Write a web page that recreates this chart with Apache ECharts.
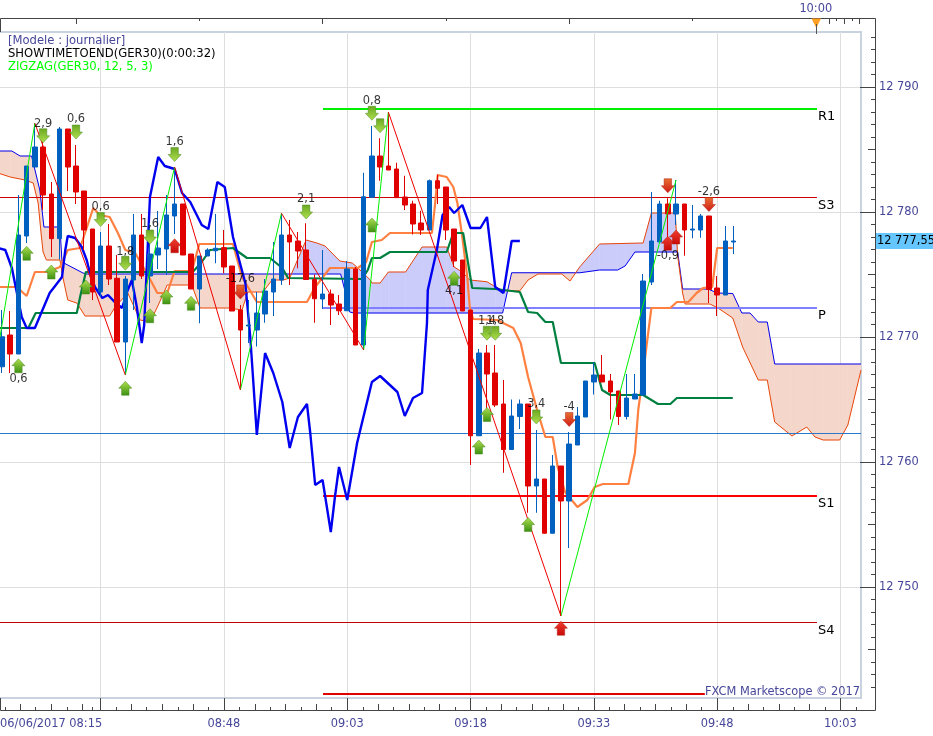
<!DOCTYPE html>
<html><head><meta charset="utf-8">
<style>html,body{margin:0;padding:0;background:#fff}#c{width:933px;height:736px}</style>
<script src="https://cdn.jsdelivr.net/npm/echarts@6/dist/echarts.min.js"></script>
</head><body><div id="c"></div>
<script>
const opens=[12767.62,12770.16,12768.64,12778.08,12783.6,12785.2,12781.44,12777.87,12786.64,12783.68,12781.68,12778.64,12773.6,12777.28,12774.7,12769.6,12774.56,12778.16,12774.88,12776.56,12777.04,12779.68,12780.64,12776.64,12773.84,12776.48,12776.9,12777.15,12775.68,12772.16,12770.88,12770.56,12771.84,12773.6,12774.56,12778.16,12777.68,12776.96,12774.6,12773.04,12773.44,12772.64,12772.1,12775.44,12769.36,12781.18,12784.48,12783.68,12783.44,12781.2,12780.64,12779.12,12778.56,12782.5,12782,12778.64,12776.16,12772.16,12762.1,12768.72,12767.12,12764.64,12761,12763.64,12764.64,12758.08,12758.64,12754.3,12759.68,12756.88,12761.36,12763.6,12766.4,12766.96,12766.48,12765.68,12763.64,12765.04,12765.36,12774.4,12777.6,12780.64,12779.84,12780.64,12778.56,12778.56,12779.68,12773.92,12773.36,12777.6];
const closes=[12770.02,12768.64,12778.16,12783.68,12785.2,12781.36,12777.87,12786.64,12783.6,12781.6,12778.56,12773.6,12777.28,12774.64,12769.6,12774.64,12778.16,12774.88,12776.64,12777.12,12779.76,12780.64,12776.56,12773.84,12776.48,12776.96,12777.1,12775.6,12772.08,12770.56,12770.96,12771.92,12773.68,12774.64,12778.16,12777.6,12776.88,12774.6,12773.06,12773.44,12772.56,12772.1,12775.44,12769.36,12781.22,12784.48,12783.6,12783.36,12781.15,12780.56,12779.04,12778.56,12782.5,12781.9,12778.56,12776.08,12772.08,12762.1,12768.72,12767.04,12764.56,12761,12763.68,12764.64,12758.08,12758.64,12754.3,12759.68,12756.88,12761.44,12763.68,12766.48,12766.96,12766.4,12765.6,12763.64,12765.12,12765.44,12774.48,12777.68,12780.64,12779.84,12780.64,12778.56,12778.64,12779.68,12773.8,12773.36,12777.68,12777.68];
const lows=[12767.12,12767.12,12768.64,12777.52,12783.6,12780.16,12776.4,12776.2,12781.68,12780.64,12776.96,12772.96,12773.2,12774.16,12769.6,12766.96,12772.16,12774.64,12772.72,12775.44,12774.96,12778.24,12776.56,12773.84,12771.1,12776.48,12775.9,12775.1,12772.08,12765.76,12769.52,12769.24,12771.14,12771.68,12774.16,12774.16,12775.5,12774.6,12771.14,12772.24,12770.96,12771.76,12772.1,12769.36,12768.96,12781.18,12782.5,12783.36,12781.15,12780.16,12778.2,12778.16,12778.56,12780.64,12777.76,12775.6,12772.08,12759.76,12762.1,12764.16,12764.4,12759.14,12760.96,12762.64,12755.94,12755.94,12754.3,12754.3,12747.68,12753.12,12761.36,12763.6,12765.4,12766.4,12763.4,12762.96,12763.4,12765.04,12765.36,12774.16,12777.6,12777.8,12778.96,12776.5,12777.9,12777.94,12772.72,12771.68,12773.36,12776.64];
const highs=[12772.16,12772.08,12781.36,12783.68,12787.1,12786.5,12782.4,12786.8,12786.64,12785.36,12781.68,12778.64,12778.4,12779.04,12776.56,12774.88,12779.84,12779.84,12779.12,12780.08,12781.36,12783.6,12780.64,12776.64,12776.48,12777.1,12779.84,12778.56,12775.68,12772.56,12772.96,12773.6,12774.64,12777.6,12779.9,12779.36,12778.4,12779.1,12775,12776.96,12773.8,12773.36,12776.08,12775.6,12783.14,12786.88,12785.9,12788,12783.94,12782.9,12780.9,12780.1,12782.6,12783,12782,12778.64,12776.16,12772.16,12769.04,12769.36,12769.36,12766.56,12765,12765,12764.64,12762.56,12758.64,12760.56,12759.68,12762.4,12764.4,12766.48,12768,12768.56,12767.04,12765.68,12767.04,12767.04,12775.04,12781.6,12780.9,12781.1,12782.56,12780.64,12780.56,12779.84,12779.68,12774.88,12778.88,12778.88];
const BAND_COUNT=105;

const senkouA=[[-0.5,12784.88],[1.2,12784.88],[2.2,12784.48],[3.6,12784.48],[4.6,12781.76],[5.1,12778.8],[7.05,12778.8],[7.3,12776],[9.85,12775.12],[10.3,12775.04],[41.2,12775.04],[41.7,12773.76],[42.3,12772],[42.8,12771.92],[60.9,12771.92],[62,12775.14],[70.3,12775.14],[72.7,12775.36],[74.9,12775.36],[75.8,12775.68],[77,12776.8],[82.2,12776.8],[82.8,12773.84],[85.9,12773.84],[87,12773.52],[88.9,12773.48],[90,12771.92],[91,12771.92],[92,12771.2],[93.1,12771.2],[94,12767.84],[104.5,12767.84]];
const senkouB=[[-0.5,12783.12],[1,12782.8],[2.2,12782.64],[2.8,12782.56],[3.8,12782.32],[4.4,12780.72],[4.8,12778],[5,12776.8],[5.4,12776.16],[7.05,12776.16],[7.4,12774.8],[8,12772.96],[9.1,12772.72],[10.1,12771.68],[13.1,12771.68],[13.75,12772.4],[15.3,12773.52],[16.8,12771.36],[18,12771.2],[18.9,12772.4],[20.1,12774.16],[23.1,12774.16],[24.1,12772.32],[27.7,12772.32],[29.2,12772.16],[29.9,12773.6],[31.75,12773.6],[32.85,12774.56],[34.2,12774.56],[35,12774.72],[37,12777.76],[38.3,12777.52],[39.3,12777.28],[41.1,12776.08],[42.6,12775.92],[43.3,12775.52],[44.8,12774.56],[45,12774.32],[46,12774.32],[47,12775.2],[49.1,12775.2],[51.1,12777.2],[54.1,12777.2],[55,12775.6],[56,12775.2],[56.9,12774.56],[59,12774.42],[60,12774.02],[61,12773.7],[63,12773.7],[64,12774.56],[65.2,12775.04],[68.1,12775.04],[69.1,12774.48],[70.3,12775.62],[72.7,12777.44],[78,12777.52],[79,12779.92],[81.9,12779.92],[82.2,12776.48],[82.8,12773.52],[83.1,12772.64],[86.1,12772.64],[87.1,12772.32],[88.9,12771.52],[90.1,12769.2],[92,12766.56],[93.1,12766.56],[94,12763.2],[96.1,12762.08],[97.9,12762.8],[98.9,12762],[99.9,12761.76],[101.9,12761.76],[102.9,12762.96],[104.5,12767.36]];
const orangeLine=[[-0.5,12774],[1.8,12774],[3,12773.28],[4,12775.2],[5.5,12775.2],[7.05,12775.6],[8,12776.96],[9.5,12777.12],[11.1,12780.32],[11.9,12779.76],[13.1,12779.6],[14.1,12778.32],[15,12776.96],[16.2,12776.72],[17.6,12775.12],[18.9,12773.52],[20.1,12773.52],[21,12775.28],[23.1,12775.28],[24,12777.44],[28.1,12777.44],[29.2,12774.8],[31,12772.8],[37.1,12772.8],[38.1,12774],[39.9,12775.52],[43.3,12775.52],[44.3,12776],[45,12777.6],[46.2,12777.76],[47.2,12778.32],[52.3,12778.32],[52.7,12780.72],[53,12782.96],[54.1,12782.8],[54.9,12782],[55.4,12780.72],[56,12778],[56.6,12774.8],[56.9,12772.4],[57.3,12771.44],[60.2,12771.36],[62.2,12770.72],[63.1,12769.52],[64,12766.8],[65.1,12764.16],[66.1,12762],[67,12762],[67.6,12759.6],[68.5,12757.6],[70,12756.4],[71.2,12756.96],[72.1,12758],[73.1,12758.24],[76.2,12758.24],[77,12760.72],[77.4,12764.16],[77.9,12766.56],[78.5,12769.76],[79,12772.32],[81.3,12772.32],[82.1,12772.8],[83.5,12772.8],[84.5,12773.52],[85.3,12773.92],[86.4,12774],[87,12777.12],[88.9,12777.12]];
const greenLine=[[-0.5,12770.72],[3.2,12770.72],[4.1,12771.92],[9.1,12771.92],[9.5,12773.2],[10.2,12775.2],[23.2,12775.2],[24.3,12776],[25.3,12776.96],[28.1,12777.12],[29.8,12776.32],[32.6,12776.32],[34.1,12775.52],[34.8,12774.72],[43.8,12774.64],[44.5,12775.36],[45,12776.32],[46,12776.32],[47.2,12776.8],[54.1,12776.8],[54.9,12778.32],[56.1,12778.32],[57.2,12773.92],[60,12773.84],[63,12773.6],[64,12772],[65.1,12771.92],[66.1,12771.2],[67,12771.2],[68,12767.92],[72.1,12767.92],[73,12765.76],[74,12765.36],[78,12765.36],[79.8,12764.64],[81.3,12764.64],[82.1,12765.12],[88.9,12765.12]];
const blueLine=[[-0.5,12777.12],[0.4,12776.96],[1.2,12775.52],[2.4,12771.6],[3,12770.72],[4,12770.72],[5.8,12773.52],[7.3,12774.8],[7.7,12776.96],[8,12778.08],[8.9,12777.92],[9.7,12777.2],[10.3,12776.16],[10.7,12775.12],[11.3,12774],[12.2,12773.12],[12.9,12773.36],[13.7,12772.8],[14.6,12772.32],[15.3,12773.76],[15.8,12774.56],[16.4,12772.4],[17,12769.52],[17.3,12770.96],[18,12781.2],[19,12784.4],[19.8,12783.68],[21,12783.44],[21.9,12781.52],[22.9,12780.8],[24.3,12778.96],[25.1,12778.64],[26.2,12782.4],[27.1,12782],[28.1,12778],[29.6,12774.32],[30.2,12770],[30.5,12767.12],[31,12762.16],[31.4,12764.72],[32,12768.72],[33,12767.12],[34.1,12764.8],[35,12761.12],[36,12763.6],[37.1,12764.64],[37.5,12762.32],[38.1,12758.16],[39,12758.56],[40,12754.4],[40.5,12757.2],[41,12759.6],[42,12756.96],[43.2,12761.52],[45,12766.4],[46,12766.88],[48.1,12765.6],[49,12763.68],[50,12765.12],[51.1,12765.52],[51.7,12771.12],[51.8,12773.76],[52.9,12776.96],[53.6,12779.76],[54.4,12780.4],[55,12779.92],[56,12780.56],[57,12778.72],[58.2,12778.72],[59,12779.6],[60,12774],[61,12773.52],[62,12777.68],[63,12777.68]];
const zigzagUp=[[[-0.24,12770],[4,12787.1]],[[15,12766.96],[21,12783.6]],[[29,12765.76],[34,12779.9]],[[44,12768.96],[47,12788]],[[68,12747.68],[82,12782.56]]];
const zigzagDown=[[[4,12787.1],[15,12766.96]],[[21,12783.6],[29,12765.76]],[[34,12779.9],[44,12768.96]],[[47,12788],[68,12747.68]]];

const pivotLevels=[
 {name:'R1',price:12788.24,from:39.05,to:99.15,color:'#00f000',width:2},
 {name:'S3',price:12781.16,from:-0.5,to:99.15,color:'#d00000',width:1},
 {name:'P',price:12772.32,from:39.05,to:99.15,color:'#8080ff',width:2},
 {name:'',price:12762.28,from:-0.5,to:104.5,color:'#2a78cc',width:1},
 {name:'S1',price:12757.28,from:39.05,to:99.15,color:'#ff0000',width:2},
 {name:'S4',price:12747.16,from:-0.5,to:99.15,color:'#c00000',width:1},
 {name:'',price:12741.44,from:39.05,to:85.5,color:'#e00000',width:2}];

const arrowsUpGreen=[[2,12767.7],[3,12776.7],[6,12775.2],[10.2,12774],[15,12765.9],[18,12771.7],[20,12773.2],[23,12772.7],[45,12778.96],[55,12774.7],[58,12761.2],[59,12763.8],[64,12755]];
const arrowsUpRed=[[21,12777.3],[81,12777.5],[82,12778],[68,12746.7]];
const arrowsDownGreen=[[5,12786.1],[9,12786.4],[12,12779.4],[15,12775.9],[18,12778],[21,12784.6],[37,12780],[45,12787.9],[46,12786.9],[59,12770.3],[60,12770.3],[65,12763.6]];
const arrowsDownRed=[[29,12773.6],[69,12763.4],[81,12782.1],[86,12780.6]];
const signalLabels=[[2,12766.6,'0,6'],[5,12787,'2,9'],[9,12787.4,'0,6'],[12,12780.4,'0,6'],[15,12776.8,'1,8'],[18,12779,'1,6'],[21,12785.6,'1,6'],[29,12774.6,'-17,6'],[37,12781,'2,1'],[45,12788.9,'0,8'],[55,12773.7,'4,1'],[59,12771.3,'1,4'],[60,12771.3,'1,8'],[65,12764.6,'3,4'],[69,12764.4,'-4'],[81,12776.5,'-0,9'],[86,12781.6,'-2,6']];

const timeTicks=[12,27,42,57,72,87,102];
const timeLabels=['06/06/2017 08:15','08:48','09:03','09:18','09:33','09:48','10:03'];
const midTimeTicks=[-1.5,2.25,6,9.75,15.75,19.5,23.25,30.75,34.5,38.25,45.75,49.5,53.25,60.75,64.5,68.25,75.75,79.5,83.25,90.75,94.5,98.25];
const smallTimeTicks=[0.4,4.1,7.9,11,13.9,17.6,21.4,25.1,28.9,32.6,36.4,40.1,43.9,47.6,51.4,55.1,58.9,62.6,66.4,70.1,73.9,77.6,81.4,85.1,88.9,92.6,96.4,100.1,103.9];
const topTallTicks=[9,39,69,99,100.6,102.5,104.3];
const topShortTicks=[24,54,84,101.5,103.4];
const nowTick=99, nowLabel='10:00';
const priceTicks=[12750,12760,12770,12780,12790];
const priceMid=[12745,12755,12765,12775,12785];
const priceSmall=[12742,12743,12744,12746,12747,12748,12749,12751,12752,12753,12754,12756,12757,12758,12759,12761,12762,12763,12764,12766,12767,12768,12769,12771,12772,12773,12774,12776,12777,12778,12779,12781,12782,12783,12784,12786,12787,12788,12789,12791,12792,12793,12794];
const lastPrice=12777.68, lastPriceText='12 777,55';
const headerLines=['[Modele : journalier]','SHOWTIMETOEND(GER30)(0:00:32)','ZIGZAG(GER30, 12, 5, 3)'];
const creditText='FXCM Marketscope \u00a9 2017';

const FONT='"DejaVu Sans",Verdana,sans-serif', INK='#46469a', AXIS='#444', FS=11.4;
function xTickAxis(position,values,len,extra){
  return Object.assign({type:'value',min:-0.5,max:104.5,position:position,offset:position==='bottom'?12:14,
    axisLine:{show:false,onZero:false},axisLabel:{show:false},splitLine:{show:false},
    axisTick:{show:true,inside:true,length:len,customValues:values,lineStyle:{color:AXIS,width:1}}},extra||{});
}
function yTickAxis(values,len,extra){
  return Object.assign({type:'value',min:12741.12,max:12794.4,position:'right',offset:14,
    axisLine:{show:false,onZero:false},axisLabel:{show:false},splitLine:{show:false},
    axisTick:{show:true,inside:true,length:len,customValues:values,lineStyle:{color:AXIS,width:1}}},extra||{});
}
function valueAt(line,x){
  for(let k=0;k<line.length-1;k++){
    if(x>=line[k][0]&&x<=line[k+1][0]){
      const t=(x-line[k][0])/((line[k+1][0]-line[k][0])||1);
      return line[k][1]+t*(line[k+1][1]-line[k][1]);
    }
  }
  return line[line.length-1][1];
}
function cloudSegments(){
  let xs=[...new Set(senkouA.map(p=>p[0]).concat(senkouB.map(p=>p[0])))].sort((a,b)=>a-b);
  const extra=[];
  for(let k=0;k<xs.length-1;k++){
    const d0=valueAt(senkouA,xs[k])-valueAt(senkouB,xs[k]);
    const d1=valueAt(senkouA,xs[k+1])-valueAt(senkouB,xs[k+1]);
    if(d0*d1<0) extra.push(xs[k]+(xs[k+1]-xs[k])*d0/(d0-d1));
  }
  xs=xs.concat(extra).sort((a,b)=>a-b);
  const out=[];
  for(let k=0;k<xs.length-1;k++){
    out.push([xs[k],xs[k+1],valueAt(senkouA,xs[k]),valueAt(senkouB,xs[k]),valueAt(senkouA,xs[k+1]),valueAt(senkouB,xs[k+1])]);
  }
  return out;
}
function lineSeries(data,color,width,z,extra){
  return Object.assign({type:'line',xAxisIndex:1,yAxisIndex:0,data:data,symbol:'none',z:z,silent:true,
    lineStyle:{color:color,width:width},itemStyle:{color:color}},extra||{});
}
function grad(top,bottom){return {type:'linear',x:0,y:0,x2:0,y2:1,colorStops:[{offset:0,color:top},{offset:1,color:bottom}]};}
const ARROW_UP='path://M7 0L14 7H11V14H3V7H0Z', ARROW_DOWN='path://M3 0H11V7H14L7 14L0 7H3Z';
function arrows(data,path,color,border){
  return {type:'scatter',xAxisIndex:1,yAxisIndex:0,data:data,symbol:path,symbolSize:[13,14],z:8,silent:true,
    itemStyle:{color:color,borderColor:border,borderWidth:0.5,opacity:1}};
}

const series=[
 {type:'custom',xAxisIndex:1,yAxisIndex:0,z:1,silent:true,data:cloudSegments(),encode:{x:[0,1],y:[2,3,4,5]},
  renderItem:function(params,api){
    const a0=api.value(2),b0=api.value(3),a1=api.value(4),b1=api.value(5);
    const pts=[api.coord([api.value(0),a0]),api.coord([api.value(1),a1]),api.coord([api.value(1),b1]),api.coord([api.value(0),b0])];
    const color=(a0+a1)>=(b0+b1)?'#f5d6ca':'#ccccfa';
    return {type:'polygon',shape:{points:pts},style:{fill:color,stroke:color,lineWidth:0.5}};
  }},
 lineSeries(senkouA,'#0000f0',1,2),
 lineSeries(senkouB,'#e8480c',1,2)
];
pivotLevels.forEach(function(l){
  series.push(lineSeries([[l.from,l.price],[l.to,l.price]],l.color,l.width,2,
    l.name?{endLabel:{show:true,formatter:l.name,color:'#000',fontFamily:FONT,fontSize:13,distance:1,offset:[0,8]}}:{}));
});
series.push(
 lineSeries(orangeLine,'#ff8040',2.2,3),
 lineSeries(greenLine,'#008040',2.2,3),
 lineSeries(blueLine,'#0000f0',2.4,3),
 {type:'candlestick',xAxisIndex:0,yAxisIndex:0,z:5,silent:true,barWidth:5,
  data:opens.map(function(o,k){return [o,closes[k],lows[k],highs[k]];}),
  itemStyle:{color:'#0060c0',color0:'#e00000',borderColor:'#0060c0',borderColor0:'#e00000',borderWidth:1}}
);
zigzagUp.forEach(function(s){series.push(lineSeries(s,'#00f000',1,6));});
zigzagDown.forEach(function(s){series.push(lineSeries(s,'#f00000',1,6));});
series.push(
 arrows(arrowsUpGreen,ARROW_UP,grad('#b0e050','#3a9010'),'#4a8a20'),
 arrows(arrowsDownGreen,ARROW_DOWN,grad('#6aa820','#b0e050'),'#4a8a20'),
 arrows(arrowsUpRed,ARROW_UP,grad('#f04030','#c80808'),'#b02010'),
 arrows(arrowsDownRed,ARROW_DOWN,grad('#e87030','#d01818'),'#b02010'),
 {type:'scatter',xAxisIndex:1,yAxisIndex:0,z:9,silent:true,data:signalLabels,symbolSize:1,encode:{x:0,y:1},
  itemStyle:{color:'rgba(0,0,0,0)'},
  label:{show:true,position:'inside',color:'#000',fontFamily:FONT,fontSize:FS,formatter:function(p){return p.data[2];}}}
);

const chart=echarts.init(document.getElementById('c'),null,{renderer:'canvas'});
chart.setOption({
 animation:false,backgroundColor:'#fff',
 grid:{left:-2.11,top:32,width:863.11,height:666,outerBoundsMode:'none',containLabel:false,show:true,backgroundColor:'#fff',borderColor:'#c9d3e0',borderWidth:2},
 xAxis:[
  {type:'category',show:false,boundaryGap:true,data:Array.from({length:BAND_COUNT},function(_,k){return k;})},
  xTickAxis('bottom',timeTicks,12,{
    splitLine:{show:true,lineStyle:{color:'#dedede',width:1}},
    axisLabel:{show:true,customValues:timeTicks,margin:9,color:INK,fontFamily:FONT,fontSize:FS,hideOverlap:false,
      formatter:function(v){const t=timeLabels[timeTicks.indexOf(v)];return v===timeTicks[0]?'{first|'+t+'}':t;},
      rich:{first:{color:INK,fontFamily:FONT,fontSize:FS,padding:[0,99,0,0]}}}}),
  xTickAxis('bottom',midTimeTicks,6),
  xTickAxis('bottom',smallTimeTicks,3),
  xTickAxis('top',topTallTicks,6,{axisLabel:{show:true,customValues:[nowTick],margin:3,color:INK,fontFamily:FONT,fontSize:FS,hideOverlap:false,formatter:function(){return nowLabel;}}}),
  xTickAxis('top',topShortTicks,3)
 ],
 yAxis:[
  yTickAxis(priceTicks,15,{
    splitLine:{show:true,lineStyle:{color:'#dedede',width:1}},
    axisLabel:{show:true,customValues:priceTicks,margin:4,color:INK,fontFamily:FONT,fontSize:FS,hideOverlap:false,
      formatter:function(v){return String(v).replace(/^(\d\d)(\d\d\d)$/,'$1 $2');}}}),
  yTickAxis(priceMid,7),
  yTickAxis(priceSmall,4),
  yTickAxis([],0,{axisTick:{show:false},axisLabel:{show:true,customValues:[lastPrice],margin:1,color:'#000',backgroundColor:'#66c6ff',padding:[3,1,2,1],fontFamily:FONT,fontSize:FS,hideOverlap:false,formatter:function(){return lastPriceText;}}})
 ],
 series:series,
 graphic:[
  {type:'polyline',silent:true,z:20,shape:{points:[[0.5,32],[0.5,18.5],[875.5,18.5],[875.5,710.5],[0.5,710.5],[0.5,698]]},style:{stroke:AXIS,fill:null,lineWidth:1}},
  {type:'polygon',silent:true,z:21,shape:{points:[[811.5,18.5],[821,18.5],[816.3,28]]},style:{fill:'#ffa020'}},
  {type:'line',silent:true,z:21,shape:{x1:816.5,y1:24,x2:816.5,y2:34},style:{stroke:'#555',lineWidth:1}},
  {type:'text',silent:true,z:22,left:8,top:35,style:{text:headerLines[0],fill:INK,font:'11.6px '+FONT}},
  {type:'text',silent:true,z:22,left:8,top:48,style:{text:headerLines[1],fill:'#000',font:'11.6px '+FONT}},
  {type:'text',silent:true,z:22,left:8,top:61,style:{text:headerLines[2],fill:'#00ff00',font:'11.6px '+FONT}},
  {type:'text',silent:true,z:22,left:705,top:687,style:{text:creditText,fill:INK,font:FS+'px '+FONT}}
 ]
});
</script></body></html>
